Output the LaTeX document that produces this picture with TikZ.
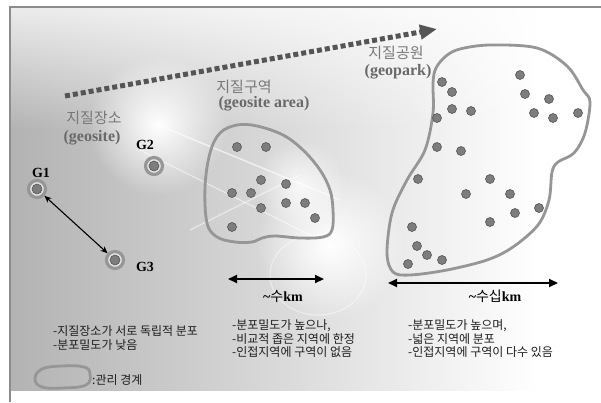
\documentclass[tikz,border=0pt]{standalone}
\usepackage{fontspec}
\setmainfont{Liberation Serif}
\newfontfamily\krfont{Noto Sans CJK KR}
\usetikzlibrary{arrows.meta,fadings}

\tikzfading[name=glowfade, inner color=transparent!0, outer color=transparent!100]
\tikzfading[name=topfade, top color=transparent!0, bottom color=transparent!100]

\tikzset{
  boundary/.style={draw=linegray, line width=2.8pt, line join=round},
  spot/.style={fill=spotgray, draw=spotedge, line width=0.6pt},
  site/.style={circle, draw=linegray, fill=ringfill, line width=3.2pt, minimum size=17pt, inner sep=0pt},
  sitelabel/.style={font=\bfseries\fontsize{14}{14}\selectfont},
  titleko/.style={text=titlegray, font=\krfont\fontsize{15}{15}\selectfont},
  titleen/.style={text=engray, font=\bfseries\fontsize{16}{16}\selectfont},
  note/.style={align=left, inner sep=0pt, text=notegray, font=\krfont\fontsize{12}{13.5}\selectfont},
  spanlabel/.style={font=\bfseries\fontsize{14}{14}\selectfont},
  span/.style={{Triangle[length=9pt,width=8pt]}-{Triangle[length=9pt,width=8pt]}, line width=1.8pt},
  pair/.style={{Stealth[length=7pt,width=6pt]}-{Stealth[length=7pt,width=6pt]}, line width=1.1pt},
  trend/.style={draw=trendgray, line width=5pt, dash pattern=on 5pt off 3pt,
    -{Triangle[length=17pt,width=14pt,fill=trendgray]}}
}

\begin{document}
\begin{tikzpicture}[x=1pt, y=-1pt]

    % Colors
    \definecolor{linegray}{RGB}{150,150,150}
    \definecolor{ringfill}{RGB}{228,228,228}
    \definecolor{spotgray}{RGB}{125,125,125}
    \definecolor{spotedge}{RGB}{85,85,85}
    \definecolor{titlegray}{RGB}{120,120,120}
    \definecolor{engray}{RGB}{105,105,105}
    \definecolor{trendgray}{RGB}{85,85,85}
    \definecolor{framegray}{RGB}{140,140,140}
    \definecolor{notegray}{RGB}{30,30,30}

    \useasboundingbox (0,0) rectangle (601,402);

    % Background
    \fill[white] (0,0) rectangle (601,402);
    \shade[left color=black!30, right color=white] (10,7) rectangle (540,390);
    \fill[white, path fading=topfade, opacity=0.75] (10,7) rectangle (601,130);
    \fill[white, path fading=glowfade] (158,125) circle (70pt);
    \fill[white, path fading=glowfade] (330,245) circle (75pt);
    \fill[white, path fading=glowfade, opacity=0.8] (300,185) circle (45pt);
    \draw[white, line width=1.5pt, opacity=0.6] (158,125) -- (340,200);
    \draw[white, line width=1.2pt, opacity=0.5] (140,150) -- (330,245);
    \draw[white, line width=1.2pt, opacity=0.5] (190,230) -- (300,175);
    \draw[white, line width=1.2pt, opacity=0.45] (318,275) ellipse (48pt and 40pt);

    % Frame
    \draw[framegray, line width=1.4pt] (601,7) -- (10,7) -- (10,402);

    % Trend arrow
    \coordinate (trendStart) at (65,96);
    \coordinate (trendEnd) at (437,29);
    \draw[trend] (trendStart) -- (trendEnd);

    % Titles
    \node[titleko] (siteKo) at (94,118) {지질장소};
    \node[titleen] (siteEn) at (92,138) {(geosite)};
    \node[titleko] (areaKo) at (244,87) {지질구역};
    \node[titleen] (areaEn) at (264,104) {(geosite area)};
    \node[titleko] (parkKo) at (396,53) {지질공원};
    \node[titleen] (parkEn) at (398,72) {(geopark)};

    % Geosites
    \node[site] (g1) at (37,189) {};
    \node[site] (g2) at (154,166) {};
    \node[site] (g3) at (115,260) {};
    \foreach \g in {g1,g2,g3}
        \fill[spot] (\g.center) circle (5pt);
    \node[sitelabel] (g1Label) at (41,173) {G1};
    \node[sitelabel] (g2Label) at (145,145) {G2};
    \node[sitelabel] (g3Label) at (145,267) {G3};
    \draw[pair] (g1) -- (g3);

    % Geosite area
    \draw[boundary] plot[smooth cycle, tension=0.6] coordinates {
        (237,125) (257,126) (283,135) (303,150) (320,170) (330,190)
        (333,210) (332,230) (323,237) (300,238) (275,236) (262,238)
        (252,242) (235,242) (217,237) (207,223) (205,187) (210,153) (220,133)};
    \foreach \p in {(237,147),(266,147),(261,180),(286,184),(232,193),(251,193),
                    (261,208),(286,203),(305,203),(315,218),(232,227)}
        \fill[spot] \p circle (4.5pt);

    % Geopark
    \draw[boundary] plot[smooth cycle, tension=0.55] coordinates {
        (433,83) (436,68) (446,56) (460,49) (490,45) (537,48) (567,66)
        (583,90) (590,102) (585,133) (574,153) (558,162) (552,172)
        (549,200) (538,225) (513,247) (487,260) (447,270) (410,275)
        (393,272) (387,253) (392,213) (407,180) (425,150) (433,113)};
    \foreach \p in {(442,82),(452,92),(520,75),(525,94),(549,99),(452,109),(471,111),
                    (437,118),(534,113),(553,118),(578,113),(437,147),(461,151),
                    (418,179),(490,179),(466,194),(510,194),(539,208),(515,213),
                    (490,222),(412,227),(417,246),(427,255),(442,260),(408,264)}
        \fill[spot] \p circle (4.5pt);

    % Scale arrows
    \coordinate (kmLeft) at (228,279);
    \coordinate (kmRight) at (324,279);
    \draw[span] (kmLeft) -- (kmRight);
    \node[spanlabel] (kmText) at (283,296) {\textasciitilde{\krfont\mdseries 수}km};

    \coordinate (tenkmLeft) at (388,283);
    \coordinate (tenkmRight) at (558,283);
    \draw[span] (tenkmLeft) -- (tenkmRight);
    \node[spanlabel] (tenkmText) at (495,296) {\textasciitilde{\krfont\mdseries 수십}km};

    % Notes
    \node[note, anchor=west] (siteNote) at (53,338) {-지질장소가 서로 독립적 분포\\-분포밀도가 낮음};
    \node[note, anchor=west] (areaNote) at (232,339) {-분포밀도가 높으나,\\-비교적 좁은 지역에 한정\\-인접지역에 구역이 없음};
    \node[note, anchor=west] (parkNote) at (408,339) {-분포밀도가 높으며,\\-넓은 지역에 분포\\-인접지역에 구역이 다수 있음};

    % Legend
    \draw[boundary] plot[smooth cycle, tension=0.7] coordinates {
        (42,369) (62,366) (84,367) (90,374) (86,385) (62,388) (42,387) (35,379)};
    \node[note, anchor=west] (legendText) at (92,380) {:관리 경계};

\end{tikzpicture}
\end{document}
